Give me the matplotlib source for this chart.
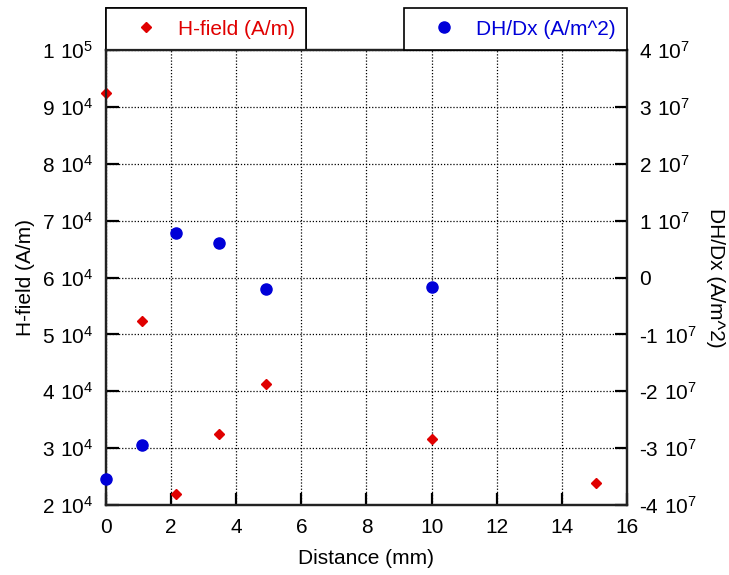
import matplotlib

matplotlib.use("Agg")
import matplotlib.pyplot as plt  # noqa: E402
from matplotlib.ticker import FuncFormatter, MultipleLocator  # noqa: E402

plt.rcParams["font.family"] = ["Liberation Sans", "DejaVu Sans"]
plt.rcParams["mathtext.default"] = "regular"

# 데이터
dist_h = [0.0, 1.1, 2.15, 3.47, 4.9, 10.0, 15.05]
h_field = [92400, 52300, 21900, 32400, 41300, 31600, 23800]
dist_d = [0.0, 1.12, 2.15, 3.47, 4.92, 10.02]
dhdx = [-3.54e7, -2.95e7, 0.79e7, 0.61e7, -0.20e7, -0.17e7]

RED = "#e00000"
BLUE = "#0000d8"
FS = 15


def sci_fmt(v, _pos):
    if abs(v) < 1e-9:
        return "0"
    exp = 0
    m = abs(v)
    while m >= 10:
        m /= 10
        exp += 1
    sign = "-" if v < 0 else ""
    return r"%s$%d\ 10^{%d}$" % (sign, round(m), exp)


fig = plt.figure(figsize=(7.29, 5.75), dpi=100)
ax = fig.add_axes([0.1454, 0.1217, 0.7146, 0.7913])
ax2 = ax.twinx()

l1, = ax.plot(dist_h, h_field, ls="none", marker="D", ms=5.5, color=RED,
              mec=RED, label="H-field (A/m)", zorder=3, clip_on=False)
l2, = ax2.plot(dist_d, dhdx, ls="none", marker="o", ms=8.0, color=BLUE,
               mec=BLUE, label="DH/Dx (A/m^2)", zorder=3, clip_on=False)

ax.set_xlim(0, 16)
ax.set_ylim(2e4, 1e5)
ax2.set_ylim(-4e7, 4e7)
ax.xaxis.set_major_locator(MultipleLocator(2))
ax.yaxis.set_major_locator(MultipleLocator(1e4))
ax2.yaxis.set_major_locator(MultipleLocator(1e7))
ax.yaxis.set_major_formatter(FuncFormatter(sci_fmt))
ax2.yaxis.set_major_formatter(FuncFormatter(sci_fmt))

ax.grid(True, color="black", ls=(0, (1, 1.5)), lw=0.9)
for a in (ax, ax2):
    for s in a.spines.values():
        s.set_linewidth(1.6)
        s.set_color("#222222")
ax.tick_params(axis="both", direction="in", length=9, width=1.6,
               labelsize=FS, pad=9)
ax2.tick_params(axis="y", direction="in", length=9, width=1.6,
                labelsize=FS, pad=9)

ax.set_xlabel("Distance (mm)", fontsize=FS, labelpad=9)
ax.set_ylabel("H-field (A/m)", fontsize=FS, labelpad=5)
ax2.set_ylabel("DH/Dx (A/m^2)", fontsize=FS, rotation=-90, labelpad=20)

leg_kw = dict(borderaxespad=0, fancybox=False, edgecolor="black",
              framealpha=1, fontsize=FS, borderpad=0.55,
              handletextpad=0.2, handlelength=2.7)
leg1 = ax.legend(handles=[l1], loc="lower left", bbox_to_anchor=(0, 1),
                 labelcolor=RED, **leg_kw)
leg1.get_frame().set_linewidth(1.2)
ax.add_artist(leg1)
leg2 = ax2.legend(handles=[l2], loc="lower right", bbox_to_anchor=(1, 1),
                  labelcolor=BLUE, **leg_kw)
leg2.get_frame().set_linewidth(1.2)

fig.savefig("out.png", dpi=100)
